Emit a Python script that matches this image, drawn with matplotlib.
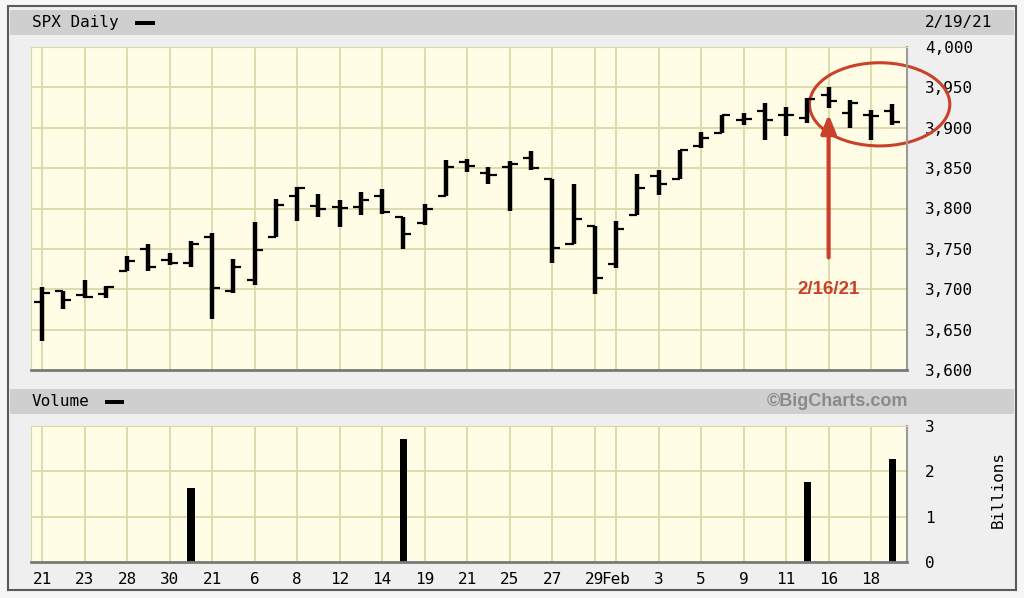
import numpy as np
import matplotlib.pyplot as plt
from matplotlib.patches import Rectangle, Ellipse
from matplotlib.ticker import FuncFormatter

# DATOS (SPX diario)
fechas = ["Dec 21", "Dec 22", "Dec 23", "Dec 24", "Dec 28", "Dec 29", "Dec 30", "Dec 31",
          "Jan 4", "Jan 5", "Jan 6", "Jan 7", "Jan 8", "Jan 11", "Jan 12", "Jan 13",
          "Jan 14", "Jan 15", "Jan 19", "Jan 20", "Jan 21", "Jan 22", "Jan 25", "Jan 26",
          "Jan 27", "Jan 28", "Jan 29", "Feb 1", "Feb 2", "Feb 3", "Feb 4", "Feb 5",
          "Feb 8", "Feb 9", "Feb 10", "Feb 11", "Feb 12", "Feb 16", "Feb 17", "Feb 18", "Feb 19"]
apertura = [3684, 3698, 3693, 3694, 3723, 3750, 3736, 3733, 3765, 3698, 3712, 3765, 3815,
            3803, 3802, 3802, 3815, 3789, 3782, 3816, 3857, 3844, 3852, 3863, 3837, 3756,
            3778, 3731, 3792, 3840, 3837, 3878, 3893, 3910, 3921, 3916, 3912, 3940, 3918,
            3916, 3921]
maximo = [3703, 3698, 3711, 3704, 3741, 3756, 3745, 3760, 3770, 3738, 3783, 3812, 3827,
          3818, 3811, 3821, 3824, 3789, 3805, 3860, 3861, 3852, 3859, 3871, 3837, 3830,
          3778, 3784, 3843, 3848, 3872, 3895, 3916, 3918, 3931, 3926, 3937, 3950, 3934,
          3922, 3930]
minimo = [3636, 3676, 3689, 3689, 3723, 3723, 3730, 3727, 3663, 3695, 3705, 3765, 3784,
          3789, 3777, 3792, 3793, 3750, 3780, 3816, 3845, 3830, 3797, 3848, 3732, 3756,
          3694, 3726, 3792, 3817, 3837, 3875, 3893, 3903, 3885, 3890, 3906, 3924, 3900,
          3885, 3903]
cierre = [3695, 3687, 3690, 3703, 3735, 3727, 3732, 3756, 3701, 3727, 3748, 3804, 3825,
          3800, 3801, 3810, 3796, 3768, 3799, 3852, 3853, 3841, 3855, 3850, 3751, 3787,
          3714, 3774, 3826, 3830, 3872, 3887, 3916, 3911, 3910, 3916, 3935, 3933, 3931,
          3914, 3907]

# volumen (miles de millones), solo aparecen algunos dias
dias_volumen = ["Dec 31", "Jan 15", "Feb 12", "Feb 19"]
volumen = [1.63, 2.71, 1.77, 2.27]

# etiquetas del eje x
etiquetas_x = ["21", "23", "28", "30", "21", "6", "8", "12", "14", "19", "21", "25",
               "27", "29", "Feb", "3", "5", "9", "11", "16", "18"]
dias_etiqueta = ["Dec 21", "Dec 23", "Dec 28", "Dec 30", "Jan 4", "Jan 6", "Jan 8",
                 "Jan 12", "Jan 14", "Jan 19", "Jan 21", "Jan 25", "Jan 27", "Jan 29",
                 "Feb 1", "Feb 3", "Feb 5", "Feb 9", "Feb 11", "Feb 16", "Feb 18"]

# COLORES
fondo = '#efefef'
cabecera = '#cfcfcf'
crema = '#fffde6'
rejilla = '#dcd8a6'
rojo = '#c9412b'
mono = 'DejaVu Sans Mono'

W, H = 1024, 598
fig = plt.figure(figsize=(W/100, H/100), dpi=100, facecolor='#f6f6f6')

def px(x, y):
    return x / W, 1 - y / H

def caja(x0, y0, x1, y1, z=-10, **kw):
    fig.add_artist(Rectangle(px(x0, y1), (x1 - x0) / W, (y1 - y0) / H,
                             transform=fig.transFigure, zorder=z, **kw))

# marco y cabeceras
caja(8, 6, 1016, 590, facecolor=fondo, edgecolor='#5a5a5a', lw=1.5)
caja(10, 10, 1014, 35, facecolor=cabecera, edgecolor='none')
caja(10, 389, 1014, 414, facecolor=cabecera, edgecolor='none')
caja(135, 21, 155, 25, z=5, facecolor='black', edgecolor='none')
caja(105, 400, 124, 404, z=5, facecolor='black', edgecolor='none')

fig.text(*px(32, 23), "SPX Daily", family=mono, fontsize=11.5, va='center')
fig.text(*px(992, 23), "2/19/21", family=mono, fontsize=11.5, va='center', ha='right')
fig.text(*px(32, 402), "Volume", family=mono, fontsize=11.5, va='center')
fig.text(*px(908, 402), "\u00a9BigCharts.com", family='Liberation Sans', fontsize=13,
         fontweight='bold', color='#8a8a8a', va='center', ha='right')
fig.text(*px(998, 490), "Billions", family=mono, fontsize=11.5, va='center',
         ha='center', rotation=90)

# posiciones
idx = {f: i for i, f in enumerate(fechas)}
x = np.arange(len(fechas))
pos_etiq = [idx[d] for d in dias_etiqueta]
pos_vol = [idx[d] for d in dias_volumen]
paso = 21.26
xmin = (31 - 42) / paso
xmax = (907 - 42) / paso

ax = fig.add_axes([31/W, 1 - 370/H, 876/W, 323/H])
axv = fig.add_axes([31/W, 1 - 562/H, 876/W, 136/H])

for a in (ax, axv):
    a.set_facecolor(crema)
    a.set_xlim(xmin, xmax)
    a.set_xticks(pos_etiq)
    a.grid(True, color=rejilla, lw=1.3)
    a.set_axisbelow(True)
    a.yaxis.tick_right()
    a.tick_params(length=0, labelsize=11.5, pad=13)
    for s in ('top', 'left'):
        a.spines[s].set_color(rejilla)
    a.spines['bottom'].set_color('#7a7a7a')
    a.spines['bottom'].set_linewidth(2)
    a.spines['right'].set_color('#9a9a9a')
    a.spines['right'].set_linewidth(1.5)

# barras OHLC
ax.set_ylim(3600, 4000)
ax.set_yticks(np.arange(3600, 4001, 50))
ax.yaxis.set_major_formatter(FuncFormatter(lambda v, p: f"{int(v):,}"))
ax.set_xticklabels([])
ax.vlines(x, minimo, maximo, color='black', lw=3.2)
ax.hlines(apertura, x - 0.38, x, color='black', lw=1.6)
ax.hlines(cierre, x, x + 0.38, color='black', lw=1.6)
for t in ax.get_yticklabels():
    t.set_family(mono)

# volumen
axv.set_ylim(0, 3)
axv.set_yticks([0, 1, 2, 3])
axv.bar(pos_vol, volumen, width=0.36, color='black')
axv.set_xticklabels(etiquetas_x)
axv.tick_params(axis='x', pad=7)
for t in axv.get_yticklabels() + axv.get_xticklabels():
    t.set_family(mono)

# anotacion en rojo
i16 = idx["Feb 16"]
ax.add_patch(Ellipse((idx["Feb 18"] + 0.4, 3929), width=6.6, height=103,
                     fill=False, edgecolor=rojo, lw=2.2, clip_on=False))
ax.annotate("", xy=(i16, 3920), xytext=(i16, 3736),
            arrowprops=dict(arrowstyle='-|>,head_width=0.45,head_length=1.1',
                            color=rojo, lw=3))
ax.text(i16, 3700, "2/16/21", color=rojo, fontsize=13.5, fontweight='bold',
        family='Liberation Sans', ha='center', va='center')

fig.savefig("out.png", dpi=100, facecolor=fig.get_facecolor())
